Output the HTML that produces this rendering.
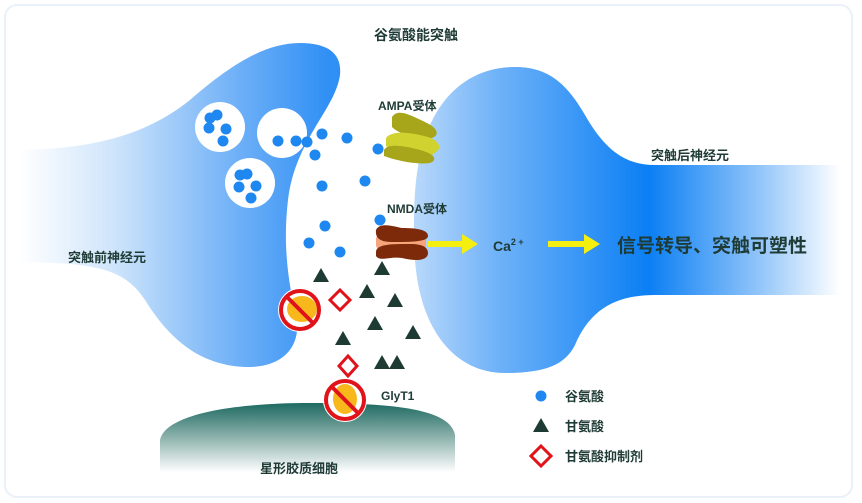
<!DOCTYPE html>
<html><head><meta charset="utf-8"><style>
html,body{margin:0;padding:0;background:#fff;}
svg{display:block;}
text{font-family:"Liberation Sans","Noto Sans CJK SC",sans-serif;font-weight:bold;fill:#1f3b35;}
</style></head><body>
<svg width="862" height="503" viewBox="0 0 862 503" xmlns="http://www.w3.org/2000/svg">
<defs>
<linearGradient id="lg" gradientUnits="userSpaceOnUse" x1="20" y1="0" x2="330" y2="0">
<stop offset="0" stop-color="#ffffff"/><stop offset="0.3" stop-color="#cfe5fb"/><stop offset="0.7" stop-color="#6fb0f7"/><stop offset="1" stop-color="#2f8ff5"/>
</linearGradient>
<linearGradient id="rg" gradientUnits="userSpaceOnUse" x1="415" y1="0" x2="840" y2="0">
<stop offset="0" stop-color="#b8d8fb"/><stop offset="0.2" stop-color="#6db1f8"/><stop offset="0.55" stop-color="#0b7ff4"/><stop offset="0.8" stop-color="#8cc2f9"/><stop offset="1" stop-color="#ffffff"/>
</linearGradient>
<linearGradient id="ag" x1="0" y1="0" x2="0" y2="1">
<stop offset="0" stop-color="#1d6a62"/><stop offset="0.45" stop-color="#8fb3ad"/><stop offset="0.9" stop-color="#ffffff"/>
</linearGradient>
</defs>
<rect x="5" y="5" width="847" height="492" rx="12" fill="#fff" stroke="#eaf1f8" stroke-width="2"/>
<path d="M10 150 C80 150 140 140 190 100 C230 65 265 43 300 43 C330 43 342 55 340 75 C335 110 295 140 288 200 C282 250 290 290 297 320 C300 350 280 368 245 367 C200 365 170 340 145 300 C125 270 100 262 10 262 Z" fill="url(#lg)"/>
<path d="M415 260 C412 200 415 150 435 115 C455 80 485 67 515 67 C545 67 565 80 585 115 C605 150 625 165 655 165 L840 165 L840 295 L655 295 C615 295 590 310 575 345 C565 365 545 373 505 373 C455 373 420 330 415 260 Z" fill="url(#rg)"/>
<path d="M160 480 L160 440 C165 415 230 403 310 403 C400 403 450 410 455 435 L455 480 Z" fill="url(#ag)"/>
<circle cx="220" cy="127" r="25" fill="#fff"/>
<circle cx="282" cy="133" r="25" fill="#fff"/>
<circle cx="250" cy="183" r="25" fill="#fff"/>
<g fill="#1e88f0">
<circle cx="210" cy="118" r="5.5"/><circle cx="217" cy="115" r="5.5"/><circle cx="209" cy="128" r="5.5"/><circle cx="226" cy="129" r="5.5"/><circle cx="223" cy="141" r="5.5"/>
<circle cx="278" cy="141" r="5.5"/><circle cx="296" cy="141" r="5.5"/><circle cx="307" cy="142" r="5.5"/>
<circle cx="240" cy="175" r="5.5"/><circle cx="247" cy="174" r="5.5"/><circle cx="239" cy="187" r="5.5"/><circle cx="256" cy="186" r="5.5"/><circle cx="251" cy="198" r="5.5"/>
<circle cx="322" cy="134" r="5.5"/><circle cx="347" cy="138" r="5.5"/><circle cx="315" cy="155" r="5.5"/><circle cx="378" cy="149" r="5.5"/><circle cx="322" cy="186" r="5.5"/><circle cx="365" cy="181" r="5.5"/><circle cx="325" cy="226" r="5.5"/><circle cx="309" cy="243" r="5.5"/><circle cx="340" cy="252" r="5.5"/><circle cx="380" cy="220" r="5.5"/>
<circle cx="541" cy="396" r="5.5"/>
</g>
<g>
<path d="M392 117 C398 108 410 115 425 122 C438 128 440 135 432 138 C420 140 400 135 392 127 Z" fill="#a7a51a"/>
<path d="M386 138 C392 130 410 132 428 137 C440 141 442 148 436 152 L428 158 C415 158 395 152 386 146 Z" fill="#cfd22f"/>
<path d="M384 150 C388 143 405 146 420 150 C435 154 438 160 430 163 C415 165 395 160 384 156 Z" fill="#a7a51a"/>
</g>
<g>
<rect x="376" y="235" width="50" height="14" rx="4" fill="#f6a47c"/>
<path d="M376 230 C380 222 392 226 402 228 C418 228 428 230 428 236 C428 242 410 242 392 242 C380 242 375 238 376 230 Z" fill="#7d2a0a"/>
<path d="M376 252 C376 244 392 244 410 244 C424 244 428 248 428 253 C428 260 418 262 402 258 C390 256 380 262 376 256 Z" fill="#7d2a0a"/>
</g>
<g fill="#f5ef10">
<rect x="428" y="241" width="36" height="6"/><polygon points="462,234 478,244 462,254"/>
<rect x="548" y="241" width="38" height="6"/><polygon points="584,234 600,244 584,254"/>
</g>
<g fill="#1d3a33">
<polygon points="321,268 329,282 313,282"/><polygon points="382,261 390,275 374,275"/><polygon points="367,284 375,298 359,298"/><polygon points="395,293 403,307 387,307"/><polygon points="375,316 383,330 367,330"/><polygon points="413,325 421,339 405,339"/><polygon points="343,331 351,345 335,345"/><polygon points="382,355 390,369 374,369"/><polygon points="397,355 405,369 389,369"/>
<polygon points="541,418 549,432 533,432"/>
</g>
<g fill="#fff" stroke="#e0121a" stroke-width="3">
<polygon points="340,290 350,300 340,310 330,300"/>
<polygon points="348,356 357,366 348,376 339,366"/>
<polygon points="541,446 551,456 541,466 531,456"/>
</g>
<g>
<circle cx="300" cy="310" r="22" fill="#fff"/>
<ellipse cx="302" cy="309" rx="15" ry="13" fill="#f8b81c"/>
<circle cx="300" cy="310" r="19" fill="none" stroke="#e0121a" stroke-width="4"/>
<line x1="287" y1="297" x2="313" y2="323" stroke="#e0121a" stroke-width="4"/>
<circle cx="345" cy="400" r="22" fill="#fff"/>
<ellipse cx="345" cy="399" rx="12" ry="15" fill="#f8b81c"/>
<circle cx="345" cy="400" r="19" fill="none" stroke="#e0121a" stroke-width="4"/>
<line x1="332" y1="387" x2="358" y2="413" stroke="#e0121a" stroke-width="4"/>
</g>
<text x="374" y="40" font-size="14">谷氨酸能突触</text>
<text x="378" y="110" font-size="12">AMPA受体</text>
<text x="387" y="213" font-size="12">NMDA受体</text>
<text x="651" y="160" font-size="13">突触后神经元</text>
<text x="68" y="262" font-size="13">突触前神经元</text>
<text x="493" y="251" font-size="14">Ca<tspan font-size="9" dy="-6">2 +</tspan></text>
<text x="617" y="252" font-size="19">信号转导、突触可塑性</text>
<text x="381" y="400" font-size="12">GlyT1</text>
<text x="260" y="473" font-size="13">星形胶质细胞</text>
<text x="565" y="401" font-size="13">谷氨酸</text>
<text x="565" y="431" font-size="13">甘氨酸</text>
<text x="565" y="461" font-size="13">甘氨酸抑制剂</text>
</svg>
</body></html>
